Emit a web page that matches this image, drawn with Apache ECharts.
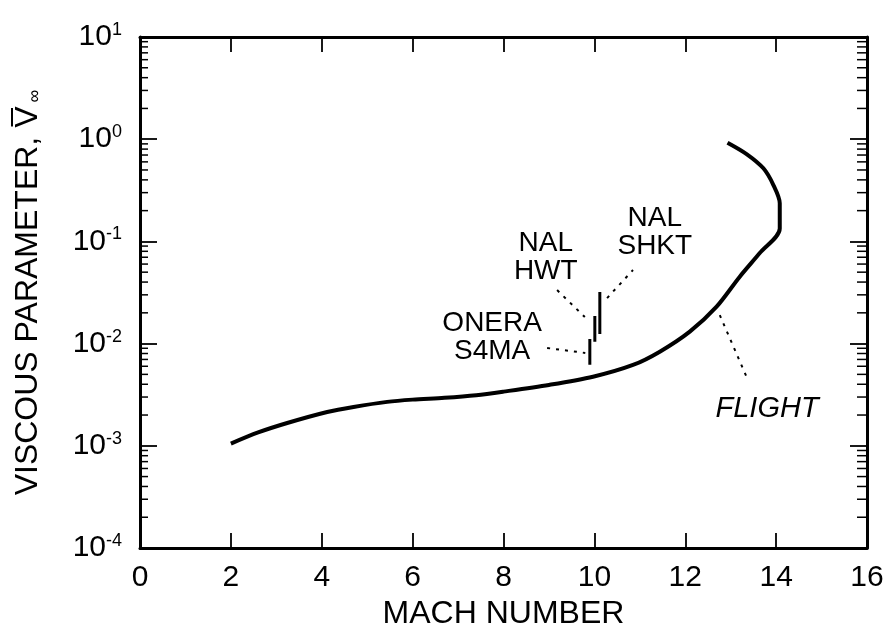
<!DOCTYPE html>
<html>
<head>
<meta charset="utf-8">
<script src="https://cdn.jsdelivr.net/npm/echarts@6/dist/echarts.min.js"></script>
<style>
  html, body { margin: 0; padding: 0; background: #fff; }
  #chart { width: 887px; height: 639px; }
</style>
</head>
<body>
<div id="chart"></div>
<script>
// flight envelope (Mach, viscous parameter)
const flightMach = [2.0, 2.6, 3.24, 4.12, 4.7, 5.44, 6.0, 6.7, 7.4, 8.0, 9.0, 9.97, 10.85, 11.44, 12.1, 12.69, 13.2, 13.64, 14.08, 14.08, 13.94, 13.72, 13.35, 12.93]
const flightV = [1.05e-3, 1.35e-3, 1.67e-3, 2.14e-3, 2.4e-3, 2.69e-3, 2.83e-3, 2.95e-3, 3.13e-3, 3.39e-3, 3.94e-3, 4.74e-3, 6.18e-3, 8.34e-3, 1.31e-2, 2.3e-2, 4.52e-2, 7.69e-2, 0.134, 0.236, 0.356, 0.519, 0.716, 0.925]

// wind tunnel ranges
const facilityNames = ['ONERA S4MA', 'NAL HWT', 'NAL SHKT']
const facilityMach = [9.9, 10.01, 10.12]
const facilityLow = [0.0062, 0.0104, 0.0124]
const facilityHigh = [0.0111, 0.0186, 0.032]

// dotted leader lines
const leaderMach = [[8.96, 9.8], [9.18, 9.79], [10.28, 10.85], [12.76, 13.36]]
const leaderV = [[0.00906, 0.0081], [0.0334, 0.0182], [0.0279, 0.0525], [0.019, 0.0046]]

// annotation text
const labelText = ['ONERA\nS4MA', 'NAL\nHWT', 'NAL\nSHKT', 'FLIGHT']
const labelMach = [7.75, 8.93, 11.33, 13.8]
const labelV = [0.0116, 0.0703, 0.1236, 0.0023]

// log minor ticks
const decades = [1e-4, 1e-3, 1e-2, 1e-1, 1]
const minorMult = [2, 3, 4, 5, 6, 7, 8, 9]

const font = '"Liberation Sans", Arial, Helvetica, sans-serif'
const chart = echarts.init(document.getElementById('chart'))

const minorData = []
decades.forEach(d => minorMult.forEach(k => minorData.push([0, k * d])))

const series = [
  {
    type: 'custom',
    renderItem: (params, api) => {
      const y = api.coord([0, api.value(1)])[1]
      const cs = params.coordSys
      return {
        type: 'group',
        children: [
          { type: 'line', shape: { x1: cs.x, y1: y, x2: cs.x + 8, y2: y }, style: { stroke: '#000', lineWidth: 1.5 } },
          { type: 'line', shape: { x1: cs.x + cs.width - 10, y1: y, x2: cs.x + cs.width, y2: y }, style: { stroke: '#000', lineWidth: 1.5 } }
        ]
      }
    },
    clip: false,
    silent: true,
    data: minorData
  },
  {
    name: 'FLIGHT',
    type: 'line',
    showSymbol: false,
    smooth: 0.3,
    lineStyle: { color: '#000', width: 4 },
    data: flightMach.map((m, i) => [m, flightV[i]])
  }
]

facilityNames.forEach((n, i) => {
  series.push({
    name: n,
    type: 'line',
    showSymbol: false,
    lineStyle: { color: '#000', width: 3 },
    data: [[facilityMach[i], facilityLow[i]], [facilityMach[i], facilityHigh[i]]]
  })
})

leaderMach.forEach((ms, i) => {
  series.push({
    type: 'line',
    showSymbol: false,
    lineStyle: { color: '#000', width: 2, type: [3, 6] },
    data: ms.map((m, j) => [m, leaderV[i][j]])
  })
})

series.push({
  type: 'scatter',
  symbolSize: 0,
  itemStyle: { color: '#000', opacity: 1 },
  label: {
    show: true,
    position: 'inside',
    formatter: p => p.data.name,
    fontFamily: font,
    fontSize: 28,
    lineHeight: 28,
    color: '#000',
    opacity: 1,
    textBorderWidth: 0,
    align: 'center'
  },
  data: labelText.map((t, i) => ({
    name: t,
    value: [labelMach[i], labelV[i]],
    label: t === 'FLIGHT' ? { fontStyle: 'italic', fontSize: 29 } : {}
  }))
})

const xBase = {
  type: 'value',
  min: 0,
  max: 16,
  interval: 2,
  splitLine: { show: false },
  axisLine: { onZero: false, lineStyle: { color: '#000', width: 3 } },
  axisTick: { inside: true, length: 15, lineStyle: { color: '#000', width: 1.8 } }
}
const yBase = {
  type: 'log',
  logBase: 10,
  min: 1e-4,
  max: 10,
  splitLine: { show: false },
  axisLine: { onZero: false, lineStyle: { color: '#000', width: 3 } },
  axisTick: { inside: true, length: 17, lineStyle: { color: '#000', width: 1.8 } }
}

chart.setOption({
  animation: false,
  backgroundColor: '#fff',
  grid: { left: 140, right: 20, top: 37, bottom: 91 },
  xAxis: [
    {
      ...xBase,
      position: 'bottom',
      axisLabel: { fontFamily: font, fontSize: 30, color: '#000', margin: 15 },
      name: 'MACH NUMBER',
      nameLocation: 'middle',
      nameGap: 45,
      nameTextStyle: { fontFamily: font, fontSize: 32, color: '#000' }
    },
    { ...xBase, position: 'top', axisLabel: { show: false } }
  ],
  yAxis: [
    {
      ...yBase,
      position: 'left',
      axisLabel: {
        margin: 18,
        formatter: v => '{b|10}{s|' + Math.round(Math.log10(v)) + '}',
        rich: {
          b: { fontFamily: font, fontSize: 30, color: '#000' },
          s: { fontFamily: font, fontSize: 18, color: '#000', padding: [0, 0, 14, 0] }
        }
      },
      name: '{t|VISCOUS PARAMETER, }{v|V\u0305}{sub|\u221e}',
      nameLocation: 'middle',
      nameRotate: 90,
      nameGap: 96,
      nameTextStyle: {
        rich: {
          t: { fontFamily: font, fontSize: 32, color: '#000' },
          v: { fontFamily: font, fontSize: 32, color: '#000' },
          sub: { fontFamily: font, fontSize: 18, color: '#000', padding: [14, 0, 0, 4] }
        }
      }
    },
    { ...yBase, position: 'right', axisLabel: { show: false } }
  ],
  series: series
})
</script>
</body>
</html>
